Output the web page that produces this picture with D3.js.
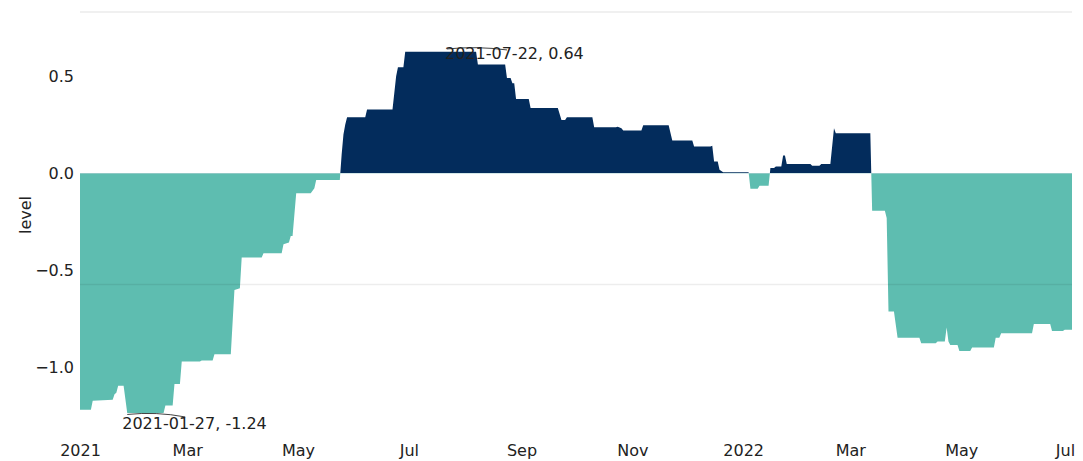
<!DOCTYPE html>
<html lang="en">
    <head>
        <meta charset="utf-8">
        <title>level</title>
        <script type="text/javascript" src="https://d3js.org/d3.v7.min.js"></script>
        <style>
            body {
                margin: 0;
                background: white;
            }
            text {
                font-family: "DejaVu Sans", sans-serif;
                font-size: 16px;
                fill: #222;
            }
            .topLine {
                stroke: #f0f0f0;
                stroke-width: 2;
            }
            .gridLine {
                stroke: rgba(0, 0, 0, 0.07);
                stroke-width: 1.5;
            }
            .arrow {
                fill: none;
                stroke: #111;
                stroke-width: 0.8;
            }
        </style>
    </head>
    <body>
        <div id="chart"></div>
        <script type="text/javascript">
            //data
            const dates = [
                "2021-01-01", "2021-01-07", "2021-01-08", "2021-01-19", "2021-01-20", "2021-01-21", "2021-01-22", "2021-01-25",
                "2021-01-27", "2021-02-16", "2021-02-17", "2021-02-21", "2021-02-22", "2021-02-25", "2021-02-26", "2021-03-08",
                "2021-03-09", "2021-03-15", "2021-03-16", "2021-03-25", "2021-03-27", "2021-03-30", "2021-03-31", "2021-04-11",
                "2021-04-12", "2021-04-22", "2021-04-23", "2021-04-26", "2021-04-27", "2021-04-28", "2021-04-30", "2021-05-08",
                "2021-05-10", "2021-05-11", "2021-05-24", "2021-05-25", "2021-05-26", "2021-05-27", "2021-05-28", "2021-06-07",
                "2021-06-08", "2021-06-22", "2021-06-24", "2021-06-25", "2021-06-28", "2021-06-29", "2021-08-07", "2021-08-08",
                "2021-08-23", "2021-08-24", "2021-08-26", "2021-08-27", "2021-08-28", "2021-08-29", "2021-09-05", "2021-09-06",
                "2021-09-21", "2021-09-23", "2021-09-25", "2021-09-26", "2021-10-10", "2021-10-11", "2021-10-23", "2021-10-24",
                "2021-10-26", "2021-10-27", "2021-11-06", "2021-11-07", "2021-11-21", "2021-11-23", "2021-12-04", "2021-12-05",
                "2021-12-14", "2021-12-15", "2021-12-16", "2021-12-18", "2021-12-19", "2021-12-21", "2022-01-04", "2022-01-05",
                "2022-01-09", "2022-01-10", "2022-01-15", "2022-01-16", "2022-01-18", "2022-01-19", "2022-01-22", "2022-01-23",
                "2022-01-24", "2022-01-25", "2022-02-07", "2022-02-08", "2022-02-12", "2022-02-13", "2022-02-18", "2022-02-20",
                "2022-02-21", "2022-03-12", "2022-03-13", "2022-03-20", "2022-03-21", "2022-03-22", "2022-03-25", "2022-03-27",
                "2022-04-08", "2022-04-09", "2022-04-17", "2022-04-18", "2022-04-22", "2022-04-23", "2022-04-24", "2022-04-25",
                "2022-04-29", "2022-04-30", "2022-05-06", "2022-05-07", "2022-05-19", "2022-05-20", "2022-05-22", "2022-05-23",
                "2022-06-09", "2022-06-10", "2022-06-19", "2022-06-20", "2022-06-26", "2022-06-27", "2022-07-01"
            ];
            const levels = [
                -1.216, -1.216, -1.169, -1.164, -1.136, -1.128, -1.093, -1.093,
                -1.233, -1.233, -1.194, -1.194, -1.084, -1.084, -0.968, -0.968,
                -0.963, -0.963, -0.930, -0.930, -0.600, -0.591, -0.433, -0.433,
                -0.411, -0.411, -0.364, -0.355, -0.322, -0.322, -0.102, -0.102,
                -0.076, -0.034, -0.034, 0.096, 0.200, 0.251, 0.289, 0.289,
                0.329, 0.329, 0.500, 0.546, 0.546, 0.625, 0.625, 0.560,
                0.560, 0.490, 0.490, 0.464, 0.464, 0.383, 0.383, 0.336,
                0.336, 0.275, 0.275, 0.289, 0.289, 0.237, 0.237, 0.240,
                0.232, 0.220, 0.220, 0.248, 0.248, 0.169, 0.169, 0.138,
                0.138, 0.142, 0.061, 0.061, 0.018, 0.006, 0.006, -0.079,
                -0.079, -0.064, -0.064, 0.027, 0.027, 0.035, 0.035, 0.092,
                0.092, 0.048, 0.048, 0.039, 0.039, 0.048, 0.048, 0.232,
                0.206, 0.206, -0.192, -0.192, -0.230, -0.710, -0.710, -0.845,
                -0.845, -0.874, -0.874, -0.865, -0.865, -0.793, -0.865, -0.883,
                -0.883, -0.914, -0.914, -0.896, -0.896, -0.845, -0.845, -0.822,
                -0.822, -0.775, -0.775, -0.811, -0.811, -0.805, -0.805
            ];
            const yTicks = [0.5, 0, -0.5, -1];
            const gridLevels = [-0.572];
            const notes = [
                {date: "2021-07-22", value: 0.64, label: "2021-07-22, 0.64"},
                {date: "2021-01-27", value: -1.24, label: "2021-01-27, -1.24"}
            ];

            //set svg size
            let w = 1083;
            let h = 461;
            let mLeft = 80, mRight = 1072, mTop = 12, mBottom = 430;

            const parse = d3.timeParse("%Y-%m-%d");
            let dataset = dates.map((d, i) => ({date: parse(d), value: levels[i]}));

            let xScale = d3.scaleTime()
                            .domain([parse("2021-01-01"), parse("2022-07-01")])
                            .range([mLeft, mRight]);

            let yScale = d3.scaleLinear()
                            .domain([-1.32, 0.83])
                            .range([mBottom, mTop]);

            let svg = d3.select("#chart")
                        .append("svg")
                        .attr("width", w)
                        .attr("height", h);

            //clip regions above and below zero
            let defs = svg.append("defs");
            defs.append("clipPath").attr("id", "clipPos")
                .append("rect")
                .attr("x", mLeft).attr("y", mTop)
                .attr("width", mRight - mLeft).attr("height", yScale(0) - mTop);
            defs.append("clipPath").attr("id", "clipNeg")
                .append("rect")
                .attr("x", mLeft).attr("y", yScale(0))
                .attr("width", mRight - mLeft).attr("height", mBottom - yScale(0));

            //top border line
            svg.append("line")
                .attr("class", "topLine")
                .attr("x1", mLeft).attr("x2", mRight)
                .attr("y1", yScale(0.83)).attr("y2", yScale(0.83));

            let area = d3.area()
                        .x(d => xScale(d.date))
                        .y0(yScale(0))
                        .y1(d => yScale(d.value));

            svg.append("path")
                .datum(dataset)
                .attr("clip-path", "url(#clipPos)")
                .attr("fill", "#032c5c")
                .attr("d", area);

            svg.append("path")
                .datum(dataset)
                .attr("clip-path", "url(#clipNeg)")
                .attr("fill", "#5ebdb0")
                .attr("d", area);

            //faint grid line drawn over the areas
            svg.selectAll(".gridLine")
                .data(gridLevels)
                .enter()
                .append("line")
                .attr("class", "gridLine")
                .attr("x1", mLeft).attr("x2", mRight)
                .attr("y1", d => yScale(d)).attr("y2", d => yScale(d));

            //x axis
            let xAxis = d3.axisBottom(xScale)
                        .ticks(d3.timeMonth.every(2))
                        .tickSize(0)
                        .tickFormat(d => d.getMonth() === 0 ? d3.timeFormat("%Y")(d) : d3.timeFormat("%b")(d));

            let gx = svg.append("g")
                .attr("transform", `translate(0, ${mBottom})`)
                .call(xAxis);
            gx.select(".domain").remove();
            gx.selectAll("text")
                .attr("y", 26)
                .attr("dy", 0)
                .style("font-size", "16px")
                .style("font-family", "DejaVu Sans, sans-serif")
                .attr("fill", "#222");
            gx.selectAll(".tick:last-of-type text").attr("dx", -7);

            //y axis
            let yAxis = d3.axisLeft(yScale)
                        .tickValues(yTicks)
                        .tickSize(0)
                        .tickPadding(6)
                        .tickFormat(d3.format(".1f"));

            let gy = svg.append("g")
                .attr("transform", `translate(${mLeft}, 0)`)
                .call(yAxis);
            gy.select(".domain").remove();
            gy.selectAll("text")
                .style("font-size", "16px")
                .style("font-family", "DejaVu Sans, sans-serif")
                .attr("fill", "#222");

            //axis title
            svg.append("text")
                .attr("transform", "translate(31, 215) rotate(-90)")
                .attr("text-anchor", "middle")
                .attr("fill", "#000")
                .text("level");

            //annotations of max and min
            const offsets = [{tx: -2, ty: 10, ex: 60, ey: 1}, {tx: -5, ty: 14.5, ex: 58, ey: 2.5}];
            notes.forEach((n, i) => {
                let px = xScale(parse(n.date));
                let py = yScale(n.value);
                let o = offsets[i];
                svg.append("path")
                    .attr("class", "arrow")
                    .attr("d", `M${px},${py} Q${px + o.ex / 2},${py - 3} ${px + o.ex},${py + o.ey}`);
                svg.append("text")
                    .attr("x", px + o.tx)
                    .attr("y", py + o.ty)
                    .attr("fill", "#111")
                    .text(n.label);
            });
        </script>
    </body>
</html>
